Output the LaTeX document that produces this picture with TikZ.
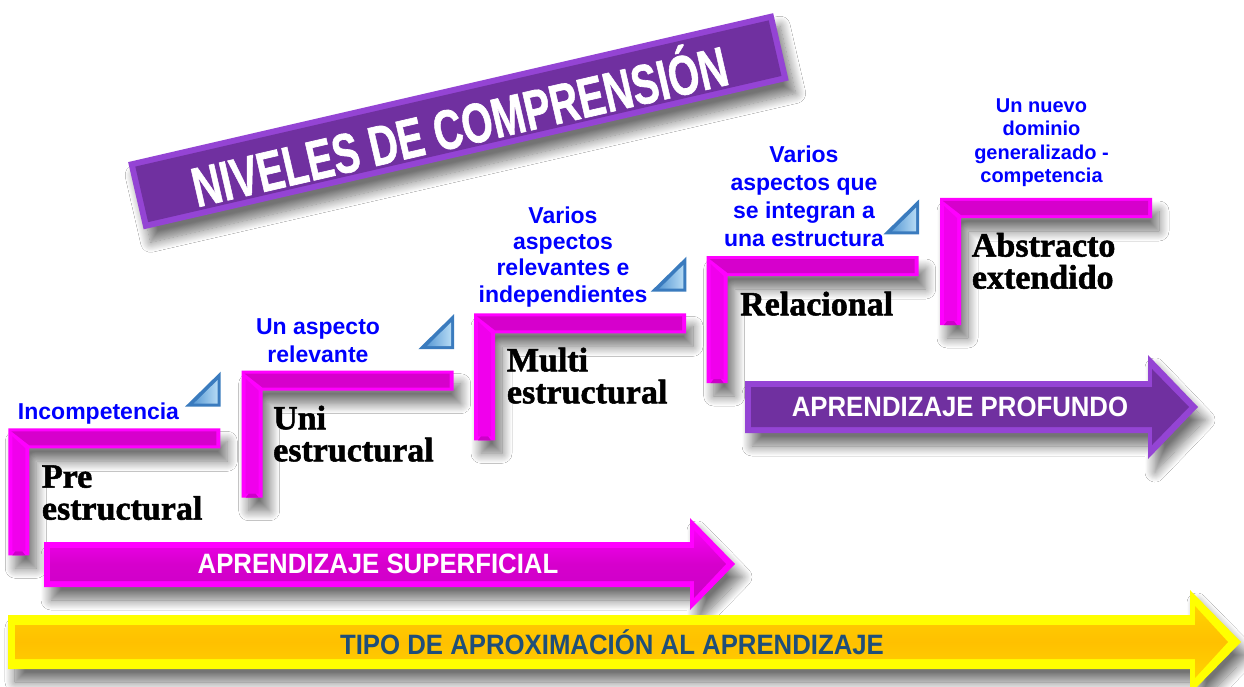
\documentclass[tikz,border=0pt]{standalone}
\usepackage{fontspec}
\setmainfont{Liberation Sans}
\newfontfamily\condfont{Liberation Sans}[FakeStretch=0.92]
\newfontfamily\titlefont{Liberation Sans}[BoldFeatures={FakeBold=1.2}]
\newfontfamily\lvlfont{Liberation Serif}[BoldFeatures={FakeBold=1.5}]
\usetikzlibrary{shadows.blur}
\definecolor{mag}{HTML}{FF00FF}
\definecolor{magdark}{HTML}{D600CC}
\definecolor{magmid}{HTML}{F000EC}
\definecolor{maginner}{HTML}{CC00C8}
\definecolor{purp}{HTML}{7030A0}
\definecolor{purplight}{HTML}{9444D4}
\definecolor{yel}{HTML}{FFFF00}
\definecolor{orng}{HTML}{FFC000}
\definecolor{navy}{HTML}{1F4E79}
\definecolor{tridark}{HTML}{3A7BBE}
\definecolor{trimid}{HTML}{5B9BD5}
\definecolor{trilight}{HTML}{B5DAF4}
\definecolor{bluetxt}{HTML}{0000FF}
\tikzset{
  softshadow/.style={blur shadow={shadow xshift=7pt, shadow yshift=-13pt, shadow blur radius=10pt, shadow opacity=55, shadow blur steps=14}},
  bluetext/.style={text=bluetxt, font=\bfseries\fontsize{23}{27.5}\selectfont, align=center, inner sep=0pt},
  lvltext/.style={text=black, font=\lvlfont\bfseries\fontsize{34}{32}\selectfont, align=left, inner sep=0pt, anchor=north west},
  arrowtext/.style={text=white, font=\condfont\bfseries\fontsize{28}{28}\selectfont, inner sep=0pt},
}
\newcommand\levelstep[2]{%
  \begin{scope}[shift={(#1,#2)}]
    \fill[mag, softshadow] (0,0) -- (212,0) -- (212,20) -- (21,20) -- (21,127) -- (0,127) -- cycle;
    \fill[magmid] (4,8) -- (17,20) -- (17,123) -- (4,123) -- cycle;
    \fill[magdark] (3,3) -- (208,3) -- (208,17) -- (21,17) -- cycle;
    \fill[maginner] (7,123) -- (14,123) -- (17,127) -- (4,127) -- cycle;
  \end{scope}}
\newcommand\bluetri[2]{%
  \begin{scope}[shift={(#1,#2)}]
    \fill[tridark] (0,0) -- (35.7,-35) -- (35.7,0) -- cycle;
    \shade[left color=trimid, right color=trilight] (8.5,-3) -- (32.7,-26.8) -- (32.7,-3) -- cycle;
  \end{scope}}
\begin{document}
\begin{tikzpicture}[x=1pt,y=-1pt]
\useasboundingbox (0,0) rectangle (1244,687);
\clip (0,0) rectangle (1244,687);
\fill[white] (0,0) rectangle (1244,687);

% title banner
\node[fill=purplight, rotate=13, minimum width=662pt, minimum height=69pt, inner sep=0pt, softshadow] (banner) at (458.4,121.25) {};
\node[fill=purp, rotate=13, minimum width=650pt, minimum height=57pt, inner sep=0pt] (bannerface) at (458.4,121.25) {};
\node[rotate=13, anchor=base, text=white, inner sep=0pt, font=\titlefont\bfseries\fontsize{56}{56}\selectfont] (title) at (464.1,145.8) {\scalebox{0.71}[1]{NIVELES DE COMPRENSIÓN}};

% steps
\levelstep{8.3}{428.3}
\levelstep{241.7}{370.7}
\levelstep{474}{313.3}
\levelstep{706.7}{256}
\levelstep{940}{198}

% triangles
\bluetri{185}{406.7}
\bluetri{418.4}{349.1}
\bluetri{650.7}{291.7}
\bluetri{883.4}{234.4}

% blue descriptions
\node[bluetext, anchor=base] (d1) at (98.5,419) {Incompetencia};
\node[bluetext, anchor=north, font=\bfseries\fontsize{23}{27.7}\selectfont] (d2) at (318,318.5) {Un aspecto\\relevante};
\node[bluetext, anchor=north, font=\bfseries\fontsize{23}{26.3}\selectfont] (d3) at (563,206.5) {Varios\\aspectos\\relevantes e\\independientes};
\node[bluetext, anchor=north, font=\bfseries\fontsize{23}{28}\selectfont] (d4) at (804,145.2) {Varios\\aspectos que\\se integran a\\una estructura};
\node[bluetext, anchor=north, font=\bfseries\fontsize{20}{23.5}\selectfont] (d5) at (1041.5,98.4) {Un nuevo\\dominio\\generalizado -\\competencia};

% level names
\node[lvltext] (l1) at (41.7,465.2) {Pre\\estructural};
\node[lvltext] (l2) at (273,405.5) {Uni\\estructural};
\node[lvltext] (l3) at (506.7,347.5) {Multi\\estructural};
\node[lvltext] (l4) at (740,291.5) {Relacional};
\node[lvltext] (l5) at (971.7,232.8) {Abstracto\\extendido};

% superficial arrow
\fill[mag, softshadow] (44,542) -- (690,542) -- (690,518) -- (735,564) -- (690,610) -- (690,587) -- (44,587) -- cycle;
\shade[top color=mag!80!magdark, bottom color=maginner, middle color=magdark] (50,548) -- (694,548) -- (694,530) -- (726,564) -- (694,598) -- (694,581) -- (50,581) -- cycle;
\node[arrowtext] (sup) at (378,564) {APRENDIZAJE SUPERFICIAL};

% profundo arrow
\fill[purplight, softshadow] (745,381) -- (1148,381) -- (1148,355) -- (1198,407) -- (1148,459) -- (1148,433) -- (745,433) -- cycle;
\fill[purp] (751,387) -- (1152,387) -- (1152,369) -- (1189,407) -- (1152,445) -- (1152,427) -- (751,427) -- cycle;
\node[arrowtext] (prof) at (960,407) {APRENDIZAJE PROFUNDO};

% yellow arrow
\fill[yel, softshadow] (8,615) -- (1190,615) -- (1190,590) -- (1241,642) -- (1190,694) -- (1190,669) -- (8,669) -- cycle;
\shade[top color=orng!70!yel, bottom color=orng!70!yel, middle color=orng] (15,625) -- (1195,625) -- (1195,606) -- (1228,642) -- (1195,678) -- (1195,659) -- (15,659) -- cycle;
\node[arrowtext, text=navy] (tipo) at (612,642) {TIPO DE APROXIMACIÓN AL APRENDIZAJE};
\end{tikzpicture}
\end{document}
